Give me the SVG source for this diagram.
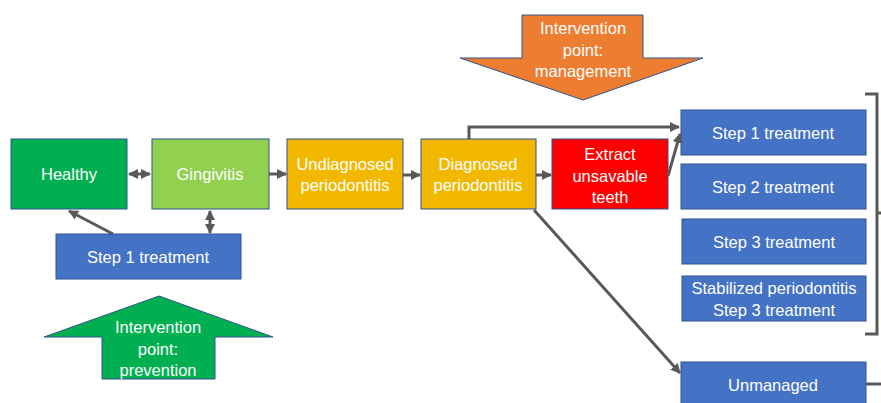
<svg xmlns="http://www.w3.org/2000/svg" width="881" height="403" viewBox="0 0 881 403">
<style>
.box{stroke:#2F528F;stroke-width:1}
.t{font-family:"Liberation Sans",Arial,sans-serif;font-size:16.5px;fill:#fff;text-anchor:middle}
.c{fill:none;stroke:#595959;stroke-width:3}
</style>
<defs>
<marker id="ah" viewBox="0 0 10 10" refX="9" refY="5" markerWidth="10" markerHeight="10" markerUnits="userSpaceOnUse" orient="auto-start-reverse">
<path d="M0,0 L10,5 L0,10 z" fill="#595959"/>
</marker>
</defs>
<rect width="881" height="403" fill="#fff"/>

<g id="healthy"><rect class="box" x="11" y="139" width="116" height="70" fill="#00B050"/><text class="t" x="69" y="180">Healthy</text></g>
<g id="gingivitis"><rect class="box" x="152" y="139" width="117" height="70" fill="#92D050"/><text class="t" x="210" y="180">Gingivitis</text></g>
<g id="step1left"><rect class="box" x="56" y="234" width="185" height="45" fill="#4472C4"/><text class="t" x="148" y="263">Step 1 treatment</text></g>
<g id="undiagnosed"><rect class="box" x="287" y="139" width="116" height="70" fill="#F2B800"/><text class="t" x="345" y="170">Undiagnosed</text><text class="t" x="345" y="191">periodontitis</text></g>
<g id="diagnosed"><rect class="box" x="421" y="139" width="115" height="70" fill="#F2B800"/><text class="t" x="478" y="170">Diagnosed</text><text class="t" x="478" y="191">periodontitis</text></g>
<g id="extract"><rect class="box" x="552" y="139" width="116" height="70" fill="#FF0000"/><text class="t" x="610" y="160">Extract</text><text class="t" x="610" y="182">unsavable</text><text class="t" x="610" y="203">teeth</text></g>
<g id="step1"><rect class="box" x="681" y="110" width="185" height="45" fill="#4472C4"/><text class="t" x="773" y="139">Step 1 treatment</text></g>
<g id="step2"><rect class="box" x="681" y="164" width="185" height="45" fill="#4472C4"/><text class="t" x="773" y="193">Step 2 treatment</text></g>
<g id="step3"><rect class="box" x="682" y="219" width="184" height="45" fill="#4472C4"/><text class="t" x="774" y="248">Step 3 treatment</text></g>
<g id="stabilized"><rect class="box" x="682" y="276" width="184" height="45" fill="#4472C4"/><text class="t" x="774" y="294">Stabilized periodontitis</text><text class="t" x="774" y="316">Step 3 treatment</text></g>
<g id="unmanaged"><rect class="box" x="681" y="362" width="185" height="50" fill="#4472C4"/><text class="t" x="773" y="391">Unmanaged</text></g>

<g id="prevention"><path class="box" d="M159,296 L273,337 L215,337 L215,379 L102,379 L102,337 L44,337 Z" fill="#00B050"/><text class="t" x="158" y="333">Intervention</text><text class="t" x="158" y="355">point:</text><text class="t" x="158" y="376">prevention</text></g>
<g id="management"><path class="box" d="M522,15 L643,15 L643,58 L703,58 L583,100 L460,58 L522,58 Z" fill="#ED7D31"/><text class="t" x="583" y="34">Intervention</text><text class="t" x="583" y="56">point:</text><text class="t" x="583" y="77">management</text></g>

<g id="connectors">
<line class="c" x1="129" y1="174" x2="150" y2="174" marker-start="url(#ah)" marker-end="url(#ah)"/>
<line class="c" x1="269" y1="174" x2="286" y2="174" marker-end="url(#ah)"/>
<line class="c" x1="403" y1="175" x2="420" y2="175" marker-end="url(#ah)"/>
<line class="c" x1="536" y1="175" x2="551" y2="175" marker-end="url(#ah)"/>
<line class="c" x1="210" y1="211" x2="210" y2="233" marker-start="url(#ah)" marker-end="url(#ah)"/>
<line class="c" x1="113" y1="234" x2="69" y2="211" marker-end="url(#ah)"/>
<polyline class="c" points="469,139 469,127 679,127" marker-end="url(#ah)"/>
<line class="c" x1="668" y1="176" x2="680" y2="134" marker-end="url(#ah)"/>
<line class="c" x1="534" y1="210" x2="680" y2="373" marker-end="url(#ah)"/>
<polyline class="c" points="865,94 877,94 877,334 865,334"/>
<line class="c" x1="877" y1="213" x2="881" y2="213"/>
<line class="c" x1="866" y1="384" x2="881" y2="384"/>
</g>
</svg>
